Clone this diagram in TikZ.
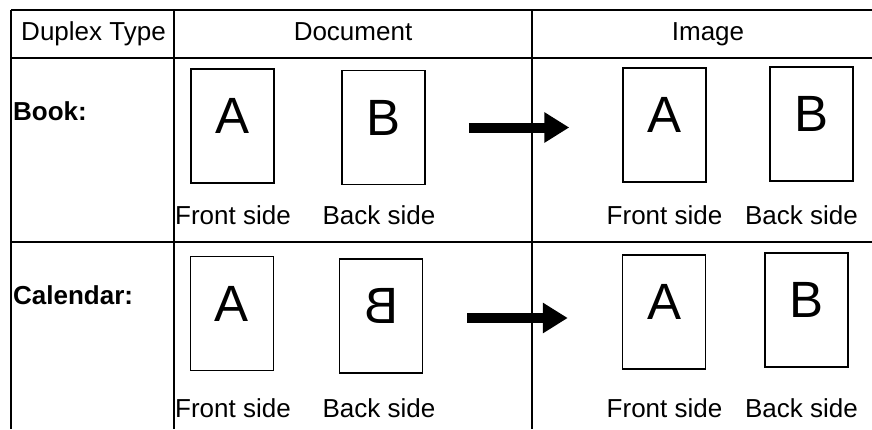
\documentclass[tikz,border=0pt]{standalone}
\usepackage{fontspec}
\setmainfont{Liberation Sans}
\usetikzlibrary{arrows.meta,positioning}

\begin{document}
\begin{tikzpicture}[
    x=1pt, y=-1pt,
    grid/.style={line width=1.6pt},
    page/.style={draw, line width=1.5pt, minimum width=83pt, minimum height=114pt, inner sep=0pt, text depth=20pt, font=\fontsize{51}{51}\selectfont},
    side/.style={anchor=base, inner sep=0pt, font=\fontsize{26}{26}\selectfont},
    head/.style={anchor=base, inner sep=0pt, font=\fontsize{26}{26}\selectfont},
    rowname/.style={anchor=base west, inner sep=0pt, font=\fontsize{26}{26}\selectfont\bfseries},
    flow/.style={line width=10pt, -{Triangle[length=25pt,width=29pt]}}
]
\useasboundingbox (0,0) rectangle (872,429);
\draw[grid] (11,10) -- (872,10);
\draw[grid] (11,58) -- (872,58);
\draw[grid] (11,242) -- (872,242);
\draw[grid] (11,10) -- (11,429);
\draw[grid] (174,10) -- (174,429);
\draw[grid] (532,10) -- (532,429);

\node[head] (duplex) at (93.5,40) {Duplex Type};
\node[head] (document) at (353,40) {Document};
\node[head] (image) at (708,40) {Image};

\node[rowname] (book) at (13,120) {Book:};
\node[rowname] (calendar) at (13,304) {Calendar:};

\node[page] (bookdocA) at (232.5,126) {A};
\node[page] (bookdocB) at (383.5,127.5) {B};
\node[page] (bookimgA) at (664.5,125) {A};
\node[page, line width=2pt] (bookimgB) at (811,123.5) {B};
\node[side] (bookdocfront) at (233,224) {Front side};
\node[side] (bookdocback) at (379,224) {Back side};
\node[side] (bookimgfront) at (664.5,224) {Front side};
\node[side] (bookimgback) at (801.5,224) {Back side};

\node[page] (caldocA) at (232,313.5) {A};
\node[page] (caldocB) at (381,316) {\scalebox{-1}[1]{B}};
\node[page] (calimgA) at (664,312) {A};
\node[page] (calimgB) at (806.5,310) {B};
\node[side] (caldocfront) at (233,417) {Front side};
\node[side] (caldocback) at (379,417) {Back side};
\node[side] (calimgfront) at (664.5,417) {Front side};
\node[side] (calimgback) at (801.5,417) {Back side};

\draw[flow, shorten <=43pt, shorten >=53pt] (bookdocB.east) -- (bookdocB.east -| bookimgA.west);
\draw[flow, shorten <=44pt, shorten >=54pt] ([yshift=-2pt]caldocB.east) -- ([yshift=-2pt]caldocB.east -| calimgA.west);
\end{tikzpicture}
\end{document}
